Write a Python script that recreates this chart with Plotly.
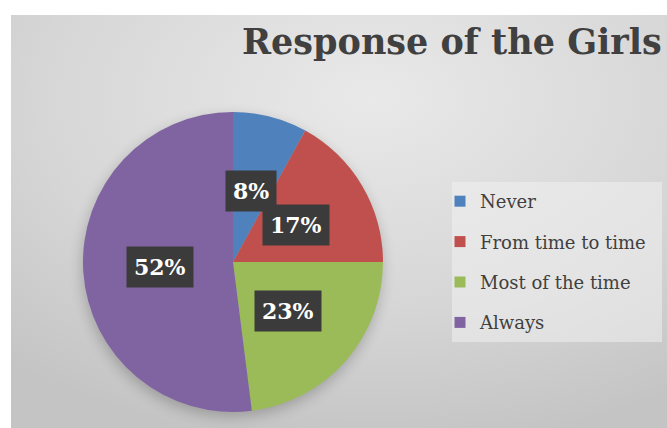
import base64
import math
import plotly.graph_objects as go

# ---- data ----
categories = ["Never", "From time to time", "Most of the time", "Always"]
values = [8, 17, 23, 52]
colors = ["#4f81bd", "#c0504d", "#9bbb59", "#8064a2"]
title_text = "Response of the Girls"

W, H = 667, 428

# background panel (radial gradient + soft pie shadow) as an embedded SVG
bg_w, bg_h = 656, 413
svg = f"""<svg xmlns='http://www.w3.org/2000/svg' width='{bg_w}' height='{bg_h}' viewBox='0 0 {bg_w} {bg_h}'>
<defs>
<radialGradient id='g' cx='0.55' cy='0.2' r='0.85'>
<stop offset='0' stop-color='#e9e9e9'/>
<stop offset='0.6' stop-color='#d6d6d6'/>
<stop offset='1' stop-color='#c4c4c4'/>
</radialGradient>
<filter id='b' x='-30%' y='-30%' width='160%' height='160%'><feGaussianBlur stdDeviation='7'/></filter>
</defs>
<rect width='{bg_w}' height='{bg_h}' fill='url(#g)'/>
<circle cx='221' cy='252' r='150' fill='#000' opacity='0.22' filter='url(#b)'/>
</svg>"""
src = "data:image/svg+xml;base64," + base64.b64encode(svg.encode()).decode()

# pie domain (paper fractions)
dom_x = [83 / W, 383 / W]
dom_y = [16 / H, 316 / H]

fig = go.Figure()
fig.add_trace(go.Pie(
    labels=categories, values=values, sort=False, direction="clockwise",
    rotation=0, marker=dict(colors=colors, line=dict(width=0)),
    textinfo="none", hoverinfo="skip", showlegend=False,
    domain=dict(x=dom_x, y=dom_y),
))

# legend entries via marker-only traces (allows Excel-like row spacing)
for cat, col in zip(categories, colors):
    fig.add_trace(go.Scatter(
        x=[None], y=[None], mode="markers", name=cat, legendgroup=cat,
        marker=dict(symbol="square", size=11, color=col),
        hoverinfo="skip",
    ))

# percentage labels in dark boxes, placed along each slice's mid-angle
cx = (dom_x[0] + dom_x[1]) / 2
cy = (dom_y[0] + dom_y[1]) / 2
r_px = min((dom_x[1] - dom_x[0]) * W, (dom_y[1] - dom_y[0]) * H) / 2
total = sum(values)
cum = 0
for v in values:
    mid = (cum + v / 2) / total * 2 * math.pi
    cum += v
    frac = 0.49
    ax = cx + frac * r_px * math.sin(mid) / W
    ay = cy + frac * r_px * math.cos(mid) / H
    pct = round(v / total * 100)
    fig.add_annotation(
        x=ax, y=ay, xref="paper", yref="paper", showarrow=False,
        xanchor="center", yanchor="middle",
        text=f"<b>{pct}%</b>",
        font=dict(family="DejaVu Serif", size=22, color="white"),
        bgcolor="#3b3b3b", borderpad=7,
    )

fig.update_layout(
    width=W, height=H,
    margin=dict(l=0, r=0, t=0, b=0),
    paper_bgcolor="white", plot_bgcolor="rgba(0,0,0,0)",
    xaxis=dict(visible=False), yaxis=dict(visible=False),
    title=dict(
        text=f"<b>{title_text}</b>", x=242 / W, xanchor="left", xref="paper",
        y=1 - 42 / H, yanchor="middle", yref="container",
        font=dict(family="DejaVu Serif", size=35, color="#404040"),
    ),
    legend=dict(
        x=440 / W, y=1 - 183 / H, xanchor="left", yanchor="top",
        bgcolor="rgba(0,0,0,0)", tracegroupgap=14,
        font=dict(family="DejaVu Serif", size=18, color="#404040"),
    ),
    images=[dict(
        source=src, xref="paper", yref="paper", x=11 / W, y=1 - 15 / H,
        sizex=bg_w / W, sizey=bg_h / H, xanchor="left", yanchor="top",
        sizing="stretch", layer="below",
    )],
    shapes=[dict(
        type="rect", xref="paper", yref="paper", layer="below",
        x0=452 / W, x1=662 / W, y0=1 - 342 / H, y1=1 - 182 / H,
        fillcolor="rgba(240,240,240,0.55)", line=dict(width=0),
    )],
)

fig.write_html(
    "out.html",
    config={"displayModeBar": False},
    post_script="document.body.style.margin='0';document.body.style.overflow='hidden';",
)
